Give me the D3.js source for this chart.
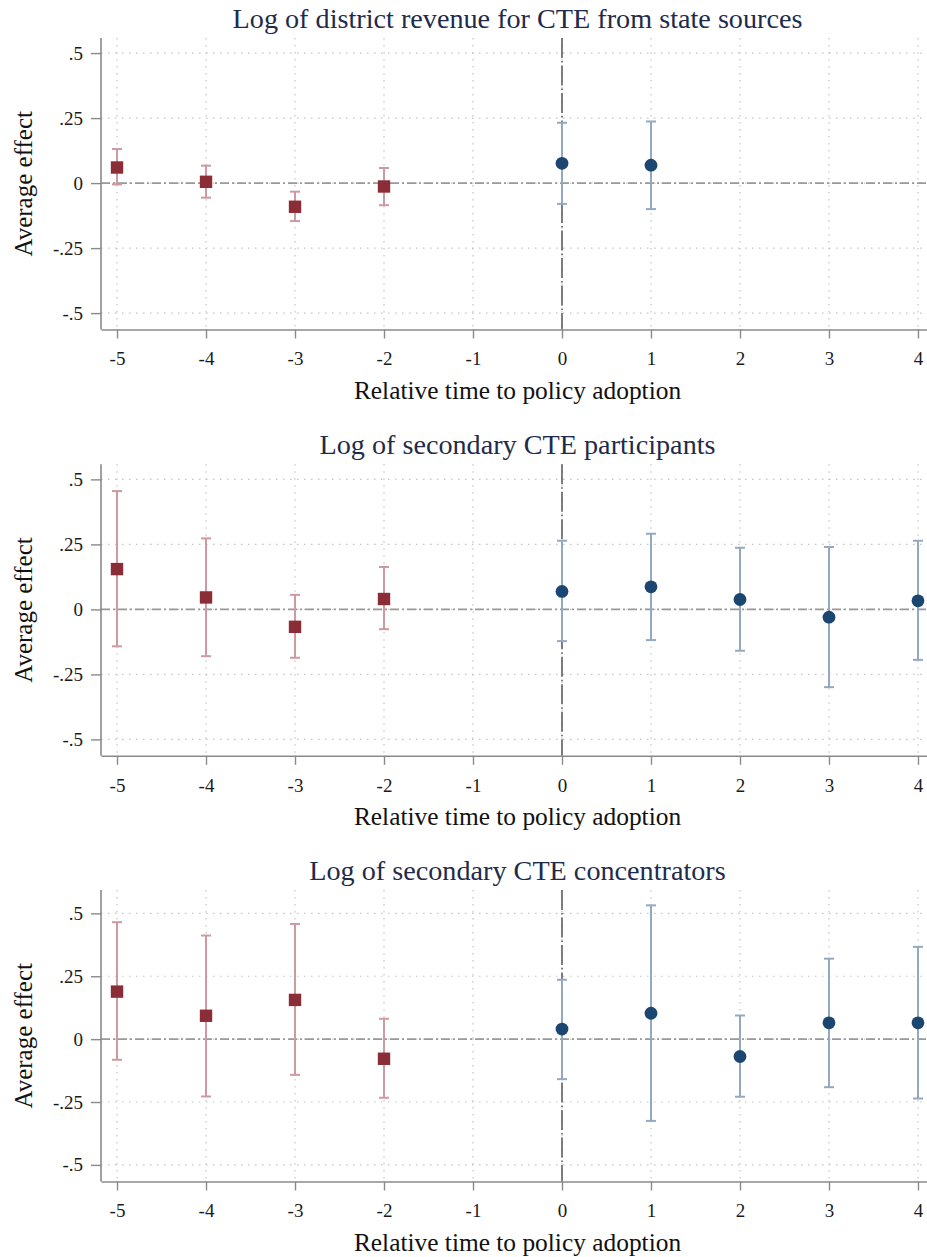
<!DOCTYPE html>
<html>
<head>
<meta charset="utf-8">
<script src="https://cdn.jsdelivr.net/npm/d3@7"></script>
<style>
	body { margin: 0; background: #fff; }
	text { font-family: "Liberation Serif", "Times New Roman", serif; }
</style>
</head>
<body>
<div id="chart"></div>
<script>
// relative time periods (event study), x tick labels and y tick labels
const periods = [-5, -4, -3, -2, 0, 1, 2, 3, 4];
const xTicks = [-5, -4, -3, -2, -1, 0, 1, 2, 3, 4];
const yTicks = [0.5, 0.25, 0, -0.25, -0.5];
const yTickLabels = [".5", ".25", "0", "-.25", "-.5"];

const titles = [
	"Log of district revenue for CTE from state sources",
	"Log of secondary CTE participants",
	"Log of secondary CTE concentrators"
];

// point estimates and 95% CI per panel (null = not estimated)
const revenueCoef = [0.060, 0.005, -0.091, -0.013, 0.076, 0.069, null, null, null];
const revenueLow  = [-0.005, -0.056, -0.146, -0.085, -0.080, -0.100, null, null, null];
const revenueHigh = [0.131, 0.067, -0.033, 0.058, 0.232, 0.237, null, null, null];

const participantsCoef = [0.155, 0.046, -0.067, 0.040, 0.069, 0.087, 0.038, -0.030, 0.033];
const participantsLow  = [-0.142, -0.180, -0.186, -0.076, -0.122, -0.118, -0.159, -0.299, -0.194];
const participantsHigh = [0.455, 0.273, 0.056, 0.163, 0.264, 0.291, 0.237, 0.240, 0.264];

const concentratorsCoef = [0.189, 0.093, 0.156, -0.078, 0.040, 0.103, -0.069, 0.065, 0.065];
const concentratorsLow  = [-0.082, -0.228, -0.142, -0.233, -0.159, -0.325, -0.229, -0.191, -0.236];
const concentratorsHigh = [0.465, 0.412, 0.458, 0.081, 0.236, 0.532, 0.094, 0.320, 0.367];

// y axis extent of each panel
const yExtents = [[-0.563, 0.558], [-0.563, 0.558], [-0.566, 0.593]];

const panels = [
	{coef: revenueCoef, low: revenueLow, high: revenueHigh},
	{coef: participantsCoef, low: participantsLow, high: participantsHigh},
	{coef: concentratorsCoef, low: concentratorsLow, high: concentratorsHigh}
].map((p, i) => ({
	title: titles[i],
	yExtent: yExtents[i],
	points: periods.map((t, j) => ({t: t, b: p.coef[j], lo: p.low[j], hi: p.high[j]}))
		.filter(d => d.b !== null)
}));

const width = 927, height = 1257;
const left = 101, right = 934;
const plotTops = [38, 464.3, 890];
const plotH = 291.5;

const svg = d3.select("#chart").append("svg")
	.attr("width", width)
	.attr("height", height);

const x = d3.scaleLinear().domain([-5.18, 4.18]).range([left, right]);

const preColor = "#8b2d36", preCI = "#cc9aa0";
const postColor = "#1b4670", postCI = "#93a9c1";

panels.forEach((p, i) => {
	const top = plotTops[i];
	const bottom = top + plotH;
	const y = d3.scaleLinear().domain(p.yExtent).range([bottom, top]);
	const g = svg.append("g");

	// title
	g.append("text")
		.attr("x", (left + right) / 2)
		.attr("y", top - 10)
		.attr("text-anchor", "middle")
		.attr("font-size", 28.2)
		.attr("fill", "#1e2b4b")
		.text(p.title);

	// grid
	g.selectAll(".hgrid").data(yTicks).enter().append("line")
		.attr("x1", left).attr("x2", right)
		.attr("y1", d => y(d)).attr("y2", d => y(d))
		.attr("stroke", "#c4c4c4").attr("stroke-width", 1.2)
		.attr("stroke-dasharray", "1.5,5.5");
	g.selectAll(".vgrid").data(xTicks).enter().append("line")
		.attr("x1", d => x(d)).attr("x2", d => x(d))
		.attr("y1", top).attr("y2", bottom)
		.attr("stroke", "#c4c4c4").attr("stroke-width", 1.2)
		.attr("stroke-dasharray", "1.5,5.5");

	// reference lines
	g.append("line")
		.attr("x1", left).attr("x2", right)
		.attr("y1", y(0)).attr("y2", y(0))
		.attr("stroke", "#999").attr("stroke-width", 1.8)
		.attr("stroke-dasharray", "9,3,2,3");
	g.append("line")
		.attr("x1", x(0)).attr("x2", x(0))
		.attr("y1", top).attr("y2", bottom)
		.attr("stroke", "#606060").attr("stroke-width", 1.6)
		.attr("stroke-dasharray", "20,3,1.5,3");

	// confidence intervals
	const ci = g.selectAll(".ci").data(p.points).enter().append("g")
		.attr("stroke", d => d.t < 0 ? preCI : postCI)
		.attr("stroke-width", 2);
	ci.append("line")
		.attr("x1", d => x(d.t)).attr("x2", d => x(d.t))
		.attr("y1", d => y(d.lo)).attr("y2", d => y(d.hi));
	ci.append("line")
		.attr("x1", d => x(d.t) - 5).attr("x2", d => x(d.t) + 5)
		.attr("y1", d => y(d.lo)).attr("y2", d => y(d.lo));
	ci.append("line")
		.attr("x1", d => x(d.t) - 5).attr("x2", d => x(d.t) + 5)
		.attr("y1", d => y(d.hi)).attr("y2", d => y(d.hi));

	// markers
	g.selectAll(".sq").data(p.points.filter(d => d.t < 0)).enter().append("rect")
		.attr("x", d => x(d.t) - 6.2).attr("y", d => y(d.b) - 6.2)
		.attr("width", 12.4).attr("height", 12.4)
		.attr("fill", preColor);
	g.selectAll(".dot").data(p.points.filter(d => d.t >= 0)).enter().append("circle")
		.attr("cx", d => x(d.t)).attr("cy", d => y(d.b))
		.attr("r", 6.4)
		.attr("fill", postColor);

	// axes
	const yAxis = d3.axisLeft(y)
		.tickValues(yTicks)
		.tickFormat((d, k) => yTickLabels[k])
		.tickSize(10).tickSizeOuter(0).tickPadding(8);
	const ya = g.append("g").attr("transform", `translate(${left},0)`).call(yAxis);

	const xAxis = d3.axisBottom(x)
		.tickValues(xTicks)
		.tickFormat(d => String(d))
		.tickSize(9).tickSizeOuter(0).tickPadding(13.5);
	const xa = g.append("g").attr("transform", `translate(0,${bottom})`).call(xAxis);

	[ya, xa].forEach(a => {
		a.select(".domain").attr("stroke", "#8a8a8a").attr("stroke-width", 1.6);
		a.selectAll(".tick line").attr("stroke", "#8a8a8a").attr("stroke-width", 1.4);
		a.selectAll(".tick text")
			.attr("font-family", "Liberation Serif")
			.attr("font-size", 19).attr("fill", "#1a1a1a");
	});
	ya.select(".domain").attr("d", `M0,${top}V${bottom}`);

	// axis titles
	g.append("text")
		.attr("transform", `translate(32,${(top + bottom) / 2}) rotate(-90)`)
		.attr("text-anchor", "middle")
		.attr("font-size", 25)
		.attr("fill", "#111")
		.text("Average effect");
	g.append("text")
		.attr("x", (left + right) / 2)
		.attr("y", bottom + 69)
		.attr("text-anchor", "middle")
		.attr("font-size", 25.4)
		.attr("fill", "#111")
		.text("Relative time to policy adoption");
});
</script>
</body>
</html>
